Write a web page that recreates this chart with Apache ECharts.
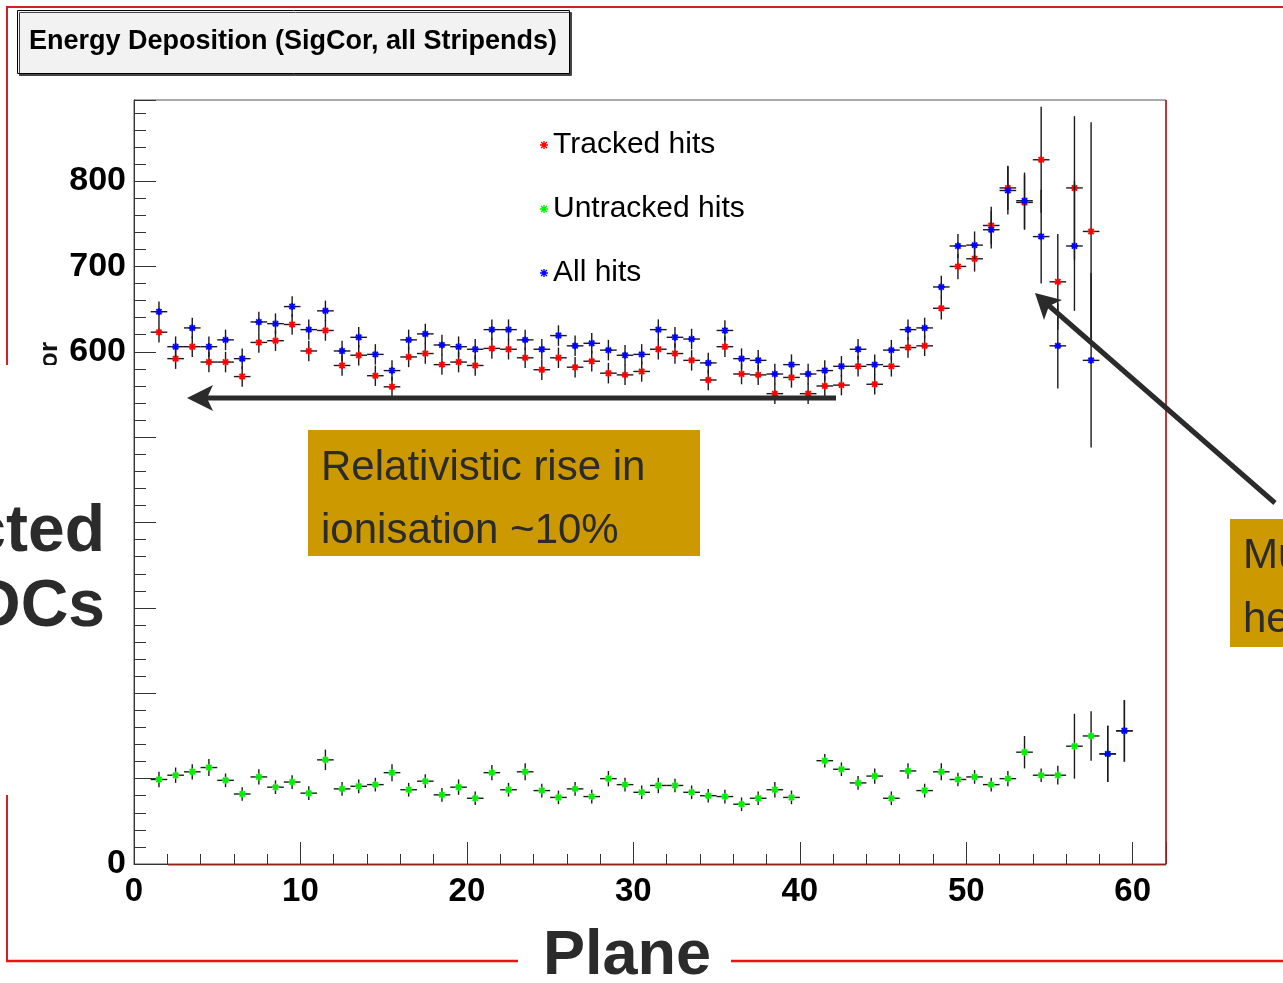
<!DOCTYPE html>
<html>
<head>
<meta charset="utf-8">
<script src="https://cdn.jsdelivr.net/npm/echarts@6/dist/echarts.min.js"></script>
<style>
	html, body { margin: 0; padding: 0; background: #fff; }
	#chart { width: 1283px; height: 983px; }
</style>
</head>
<body>
<div id="chart"></div>
<script>
// plane bin centres
var planes = [1.5, 2.5, 3.5, 4.5, 5.5, 6.5, 7.5, 8.5, 9.5, 10.5,
	11.5, 12.5, 13.5, 14.5, 15.5, 16.5, 17.5, 18.5, 19.5, 20.5,
	21.5, 22.5, 23.5, 24.5, 25.5, 26.5, 27.5, 28.5, 29.5, 30.5,
	31.5, 32.5, 33.5, 34.5, 35.5, 36.5, 37.5, 38.5, 39.5, 40.5,
	41.5, 42.5, 43.5, 44.5, 45.5, 46.5, 47.5, 48.5, 49.5, 50.5,
	51.5, 52.5, 53.5, 54.5, 55.5, 56.5, 57.5, 58.5, 59.5];

var tracked = [623, 592, 606, 588, 588, 571, 611, 613, 632, 601,
	625, 584, 596, 572, 559, 594, 598, 585, 588, 584,
	604, 603, 593, 579, 593, 582, 589, 575, 573, 577,
	603, 598, 590, 567, 606, 574, 573, 551, 570, 551,
	560, 561, 583, 562, 583, 605, 607, 651, 700, 709,
	748, 792, 775, 825, 682, 792, 741, null, null];
var trackedErr = [12, 12, 12, 12, 12, 12, 12, 12, 12, 12,
	12, 12, 12, 12, 12, 12, 12, 12, 12, 12,
	12, 12, 12, 12, 12, 12, 12, 12, 12, 12,
	12, 12, 12, 12, 12, 12, 12, 12, 12, 12,
	12, 12, 12, 12, 12, 12, 12, 13, 15, 15,
	22, 26, 32, 62, 56, 84, 128, 0, 0];

var untracked = [99, 104, 108, 113, 98, 82, 102, 90, 96, 83,
	122, 88, 91, 93, 107, 87, 97, 81, 90, 77,
	107, 87, 108, 86, 78, 88, 79, 100, 93, 84,
	92, 92, 84, 80, 79, 70, 77, 87, 78, null,
	121, 111, 95, 103, 77, 109, 86, 108, 99, 102,
	93, 100, 131, 104, 104, 138, 150, 129, 156];
var untrackedErr = [9, 9, 9, 10, 8, 8, 9, 8, 8, 8,
	12, 8, 8, 8, 10, 8, 8, 8, 9, 8,
	9, 8, 10, 8, 8, 8, 8, 9, 8, 8,
	9, 8, 8, 8, 8, 8, 8, 9, 8, 0,
	8, 8, 8, 9, 8, 9, 8, 10, 8, 8,
	8, 9, 19, 8, 11, 38, 29, 33, 36];

var allHits = [647, 606, 628, 606, 614, 592, 635, 633, 653, 626,
	648, 601, 617, 597, 578, 614, 621, 608, 606, 603,
	626, 626, 614, 603, 619, 607, 610, 602, 596, 597,
	626, 617, 615, 587, 625, 592, 590, 574, 585, 574,
	578, 583, 603, 585, 602, 626, 628, 676, 724, 725,
	743, 789, 777, 735, 607, 724, 590, 129, 156];
var allErr = [12, 12, 12, 12, 12, 12, 12, 12, 12, 12,
	12, 12, 12, 12, 12, 12, 12, 12, 12, 12,
	12, 12, 12, 12, 12, 12, 12, 12, 12, 12,
	12, 12, 12, 12, 12, 12, 12, 12, 12, 12,
	12, 12, 12, 12, 12, 12, 12, 13, 14, 16,
	22, 28, 33, 55, 50, 76, 102, 33, 36];

var seriesNames = ['Tracked hits', 'Untracked hits', 'All hits'];
var xLabels = [0, 10, 20, 30, 40, 50, 60];
var yLabels = [0, 600, 700, 800];

var FONT = '"Liberation Sans", Arial, Helvetica, sans-serif';
var STAR = 'path://M3.3,0H4.7V8H3.3Z M0,3.3H8V4.7H0Z M0.6,1.6L1.6,0.6L7.4,6.4L6.4,7.4Z M6.4,0.6L7.4,1.6L1.6,7.4L0.6,6.4Z';

function buildData(values, errors) {
	var out = [];
	for (var i = 0; i < planes.length; i++) {
		if (values[i] != null)
			out.push([planes[i], values[i], errors[i]]);
	}
	return out;
}

function errorSeries(name, color, values, errors, z) {
	return {
		name : name,
		type : 'custom',
		z : z,
		itemStyle : { color : color },
		clip : true,
		data : buildData(values, errors),
		renderItem : function(params, api) {
			var x = api.value(0), y = api.value(1), e = api.value(2);
			var c = api.coord([ x, y ]);
			var l = api.coord([ x - 0.5, y ]);
			var r = api.coord([ x + 0.5, y ]);
			var t = api.coord([ x, y + e ]);
			var b = api.coord([ x, y - e ]);
			var bar = { stroke : '#1a1a1a', lineWidth : 1.4 };
			var mk = { stroke : color, lineWidth : 1.8 };
			var s = 3.6, d = 2.6;
			return {
				type : 'group',
				children : [
					{ type : 'line', shape : { x1 : l[0], y1 : l[1], x2 : r[0], y2 : r[1] }, style : bar },
					{ type : 'line', shape : { x1 : t[0], y1 : t[1], x2 : b[0], y2 : b[1] }, style : bar },
					{ type : 'line', shape : { x1 : c[0] - s, y1 : c[1], x2 : c[0] + s, y2 : c[1] }, style : mk },
					{ type : 'line', shape : { x1 : c[0], y1 : c[1] - s, x2 : c[0], y2 : c[1] + s }, style : mk },
					{ type : 'line', shape : { x1 : c[0] - d, y1 : c[1] - d, x2 : c[0] + d, y2 : c[1] + d }, style : mk },
					{ type : 'line', shape : { x1 : c[0] - d, y1 : c[1] + d, x2 : c[0] + d, y2 : c[1] - d }, style : mk }
				]
			};
		}
	};
}

var chart = echarts.init(document.getElementById('chart'));
var RED_FRAME = '#d42020';
var DARK = '#2b2b2b';
var GOLD = '#cc9900';

chart.setOption({
	backgroundColor : '#fff',
	animation : false,
	title : {
		text : 'Energy Deposition (SigCor, all Stripends)',
		left : 17,
		top : 10,
		padding : [ 18, 13, 19, 12 ],
		backgroundColor : '#f2f2f2',
		borderColor : '#000',
		borderWidth : 1,
		shadowColor : '#444',
		shadowOffsetX : 2,
		shadowOffsetY : 2,
		shadowBlur : 0,
		textStyle : {
			fontFamily : FONT,
			fontSize : 27,
			fontWeight : 'bold',
			color : '#000'
		}
	},
	legend : {
		orient : 'vertical',
		left : 535,
		top : 125,
		itemGap : 34,
		itemWidth : 8,
		itemHeight : 8,
		data : [
			{ name : seriesNames[0], icon : STAR },
			{ name : seriesNames[1], icon : STAR },
			{ name : seriesNames[2], icon : STAR }
		],
		textStyle : {
			fontFamily : FONT,
			fontSize : 30,
			color : '#000'
		}
	},
	grid : {
		left : 134,
		right : 117,
		top : 100,
		bottom : 119,
		show : true,
		borderColor : '#555',
		borderWidth : 1
	},
	xAxis : {
		type : 'value',
		min : 0,
		max : 62,
		interval : 10,
		splitLine : { show : false },
		axisLine : { lineStyle : { color : '#333', width : 1 } },
		axisTick : { inside : true, length : 22, lineStyle : { color : '#333' } },
		minorTick : { show : true, splitNumber : 5, length : 10, lineStyle : { color : '#333' } },
		axisLabel : {
			margin : 11,
			fontFamily : FONT,
			fontSize : 33,
			fontWeight : 'bold',
			color : '#000',
			formatter : function(v) {
				return xLabels.indexOf(v) >= 0 ? String(v) : '';
			}
		}
	},
	yAxis : {
		type : 'value',
		min : 0,
		max : 895,
		interval : 100,
		splitLine : { show : false },
		axisLine : { show : true, lineStyle : { color : '#333', width : 1 } },
		axisTick : { inside : true, length : 22, lineStyle : { color : '#333' } },
		minorTick : { show : true, splitNumber : 5, length : 12, lineStyle : { color : '#333' } },
		axisLabel : {
			margin : 8,
			fontFamily : FONT,
			fontSize : 34,
			fontWeight : 'bold',
			color : '#000',
			formatter : function(v) {
				return yLabels.indexOf(v) >= 0 ? String(v) : '';
			}
		}
	},
	series : [
		errorSeries(seriesNames[0], '#ff0000', tracked, trackedErr, 3),
		errorSeries(seriesNames[1], '#00f000', untracked, untrackedErr, 4),
		errorSeries(seriesNames[2], '#0000ff', allHits, allErr, 5)
	],
	graphic : [
		// slide frame
		{ type : 'line', z : 50, shape : { x1 : 6, y1 : 7, x2 : 1283, y2 : 7 }, style : { stroke : RED_FRAME, lineWidth : 2 } },
		{ type : 'line', z : 50, shape : { x1 : 7, y1 : 6, x2 : 7, y2 : 961 }, style : { stroke : RED_FRAME, lineWidth : 2 } },
		{ type : 'line', z : 50, shape : { x1 : 6, y1 : 961, x2 : 518, y2 : 961 }, style : { stroke : '#ee1111', lineWidth : 2.5 } },
		{ type : 'line', z : 50, shape : { x1 : 731, y1 : 961, x2 : 1283, y2 : 961 }, style : { stroke : '#ee1111', lineWidth : 2.5 } },
		{ type : 'line', z : 50, shape : { x1 : 1166, y1 : 100, x2 : 1166, y2 : 864 }, style : { stroke : '#cc1111', lineWidth : 1.5 } },
		{ type : 'line', z : 50, shape : { x1 : 168, y1 : 865, x2 : 1166, y2 : 865 }, style : { stroke : '#ee1111', lineWidth : 1.2 } },
		// y title fragment, hidden by the slide box
		{ type : 'text', z : 50, x : 50, y : 342, rotation : Math.PI / 2,
			style : { text : 'or', fontFamily : FONT, fontSize : 26, fontWeight : 'bold', fill : '#111', align : 'right', verticalAlign : 'middle' } },
		{ type : 'rect', z : 60, shape : { x : 0, y : 365, width : 110, height : 430 }, style : { fill : '#fff' } },
		{ type : 'text', z : 61, x : 105, y : 533,
			style : { text : 'cted', fontFamily : FONT, fontSize : 66, fontWeight : 'bold', fill : DARK, align : 'right', verticalAlign : 'middle' } },
		{ type : 'text', z : 61, x : 105, y : 608,
			style : { text : 'DCs', fontFamily : FONT, fontSize : 66, fontWeight : 'bold', fill : DARK, align : 'right', verticalAlign : 'middle' } },
		{ type : 'text', z : 61, x : 627, y : 957,
			style : { text : 'Plane', fontFamily : FONT, fontSize : 63, fontWeight : 'bold', fill : DARK, align : 'center', verticalAlign : 'middle' } },
		// annotation boxes
		{ type : 'rect', z : 70, shape : { x : 308, y : 430, width : 392, height : 126 }, style : { fill : GOLD } },
		{ type : 'text', z : 71, x : 321, y : 468,
			style : { text : 'Relativistic rise in', fontFamily : FONT, fontSize : 42, fill : DARK, align : 'left', verticalAlign : 'middle' } },
		{ type : 'text', z : 71, x : 321, y : 531,
			style : { text : 'ionisation ~10%', fontFamily : FONT, fontSize : 42, fill : DARK, align : 'left', verticalAlign : 'middle' } },
		{ type : 'rect', z : 70, shape : { x : 1230, y : 519, width : 60, height : 128 }, style : { fill : GOLD } },
		{ type : 'text', z : 71, x : 1243, y : 556,
			style : { text : 'Mu', fontFamily : FONT, fontSize : 42, fill : DARK, align : 'left', verticalAlign : 'middle' } },
		{ type : 'text', z : 71, x : 1243, y : 620,
			style : { text : 'he', fontFamily : FONT, fontSize : 42, fill : DARK, align : 'left', verticalAlign : 'middle' } },
		// arrows
		{ type : 'line', z : 80, shape : { x1 : 836, y1 : 398, x2 : 205, y2 : 398 }, style : { stroke : DARK, lineWidth : 5 } },
		{ type : 'polygon', z : 80, shape : { points : [ [ 187, 398 ], [ 213, 385 ], [ 207, 398 ], [ 213, 411 ] ] }, style : { fill : DARK } },
		{ type : 'line', z : 80, shape : { x1 : 1275, y1 : 503, x2 : 1047, y2 : 304 }, style : { stroke : DARK, lineWidth : 5 } },
		{ type : 'polygon', z : 80, shape : { points : [ [ 1035, 293 ], [ 1062, 300 ], [ 1049, 306 ], [ 1044, 320 ] ] }, style : { fill : DARK } }
	]
});
</script>
</body>
</html>
